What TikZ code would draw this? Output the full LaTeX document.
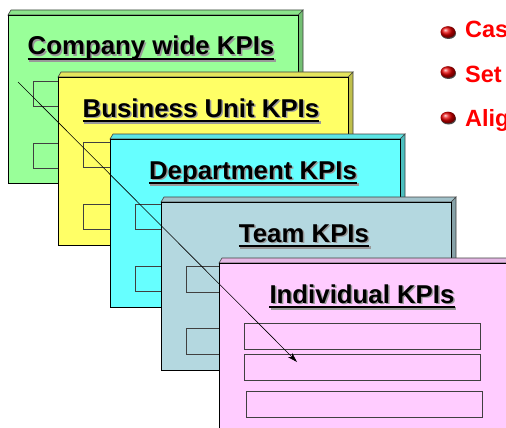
\documentclass[tikz,border=0pt]{standalone}
\usepackage{fontspec}
\setmainfont{Liberation Sans}
\usetikzlibrary{arrows.meta}

\definecolor{kgreen}{HTML}{99FF99}
\definecolor{kyellow}{HTML}{FFFF66}
\definecolor{kcyan}{HTML}{66FFFF}
\definecolor{kteam}{HTML}{B4D8E0}
\definecolor{kpink}{HTML}{FFCCFF}

\tikzset{
  face/.style={draw=black, line width=0.9pt},
  bevel/.style={draw=black!75, line width=0.6pt},
  slot/.style={draw=black!75, line width=0.9pt},
  title/.style={font=\bfseries\fontsize{25.8}{28}\selectfont, anchor=base, inner sep=0pt},
  titleshadow/.style={title, text=black!40},
  rule/.style={line width=2.4pt},
  point/.style={text=red, font=\bfseries\fontsize{23.5}{26}\selectfont, anchor=base west, inner sep=0pt},
  bulletball/.style={ball color=red!90!black},
  link/.style={draw=black, line width=0.6pt, -{Stealth[length=10pt,width=6pt]}}
}

% a bevelled card: name, left, top, colour, title
\newcommand\kpibox[5]{%
  \begin{scope}[shift={(#2,#3)}]
    \filldraw[bevel, fill=#4!75!black] (290,0) -- (295,-5) -- (295,163) -- (290,168) -- cycle;
    \filldraw[bevel, fill=#4!90!black] (0,0) -- (3,-5) -- (295,-5) -- (290,0) -- cycle;
    \filldraw[face, fill=#4] (0,0) rectangle (290,168);
    \node[titleshadow] at (144.5,41.5) {#5};
    \node[title] (#1) at (143,40) {#5};
    \draw[rule, black!40] ([xshift=1.5pt,yshift=-5.5pt]#1.base west) -- ([xshift=1.5pt,yshift=-5.5pt]#1.base east);
    \draw[rule] ([yshift=-4pt]#1.base west) -- ([yshift=-4pt]#1.base east);
  \end{scope}
}

\begin{document}
\begin{tikzpicture}[x=1pt, y=-1pt]
  \useasboundingbox (0,0) rectangle (506,428);
  \clip (0,0) rectangle (506,428);

  % company level
  \kpibox{company}{8}{15}{kgreen}{Company wide KPIs}
  \foreach \t in {66,128} \draw[slot] (33,15+\t) rectangle (269,15+\t+25);

  % business unit level
  \kpibox{unit}{58}{77}{kyellow}{Business Unit KPIs}
  \foreach \t in {65,127} \draw[slot] (83,77+\t) rectangle (319,77+\t+25);

  % department level
  \kpibox{dept}{110}{139}{kcyan}{Department KPIs}
  \foreach \t in {65,127} \draw[slot] (135,139+\t) rectangle (371,139+\t+25);

  % team level
  \kpibox{team}{161}{202}{kteam}{Team KPIs}
  \foreach \t in {64,126} \draw[slot] (186,202+\t) rectangle (422,202+\t+26);

  % individual level
  \kpibox{indiv}{219}{263}{kpink}{Individual KPIs}
  \draw[slot] (244,323) rectangle (480,349);
  \draw[slot] (244,354) rectangle (480,380);
  \draw[slot] (246,391) rectangle (482,417);

  % cascade arrow across all levels
  \coordinate (from) at (18,82);
  \coordinate (to) at (297,362);
  \draw[link] (from) -- (to);

  % bullet points
  \foreach \y in {32,72,117.5} {
    \fill[black!70] (448.5,\y+1.5) ellipse [x radius=7.5, y radius=5.5];
    \shade[bulletball] (448,\y) ellipse [x radius=7.5, y radius=5.8];
  }
  \node[point] (p1) at (465,37.5) {Cas};
  \node[point] (p2) at (465,82) {Set};
  \node[point] (p3) at (465,126.5) {Alig};
\end{tikzpicture}
\end{document}
